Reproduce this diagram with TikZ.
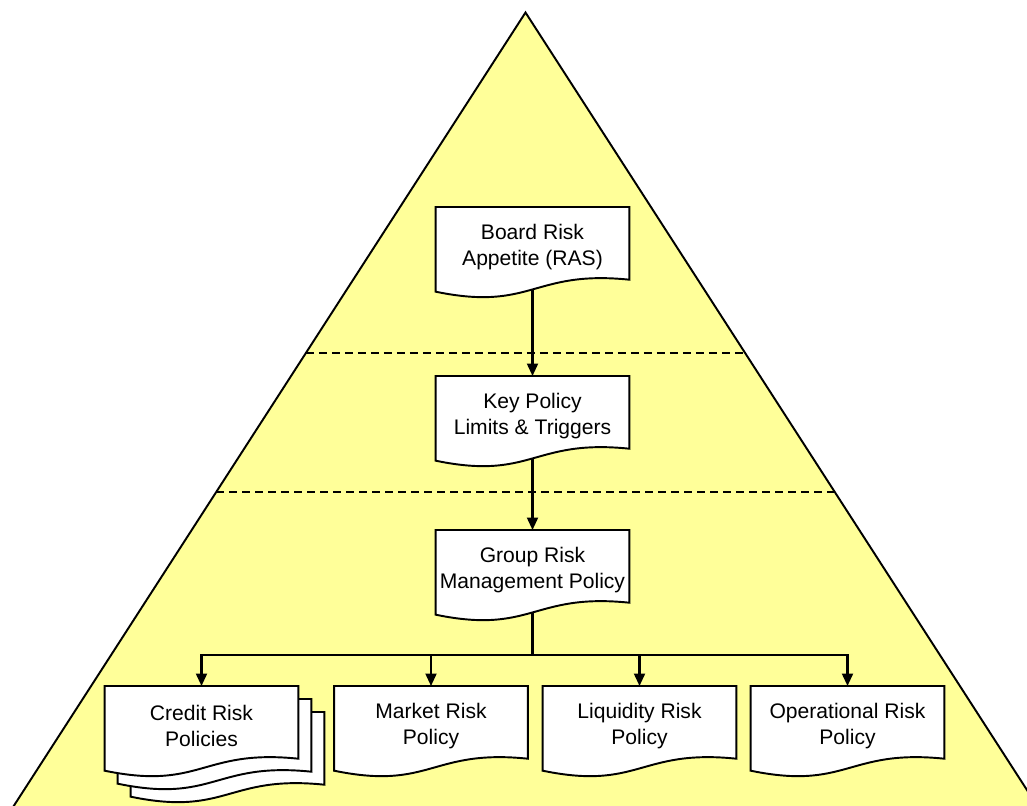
\documentclass[tikz,border=0pt]{standalone}
\usepackage{fontspec}
\setmainfont{Liberation Sans}
\usetikzlibrary{arrows.meta,backgrounds}
\definecolor{pyramidyellow}{RGB}{255,255,153}
\tikzset{
  docbox/.style={rectangle, minimum width=3.86cm, minimum height=1.58cm, inner sep=0pt,
    align=center, font=\fontsize{12}{14.5}\selectfont},
  docline/.style={draw=black, fill=white, line width=1.1pt},
  level/.style={line width=1.1pt, dash pattern=on 0.16cm off 0.1cm},
  flow/.style={line width=1.2pt, -{Triangle[length=0.25cm,width=0.22cm]}}
}
% document outline round a docbox, #2 = shift of the page
\newcommand\docpath[2]{([shift={#2}]#1.north west) -- ([shift={#2}]#1.north east)
  -- ([shift={#2},yshift=0.14cm]#1.south east)
  .. controls ([shift={#2},yshift=0.34cm]#1.south) and ([shift={#2},yshift=-0.5cm]#1.south)
  .. ([shift={#2},yshift=-0.1cm]#1.south west) -- cycle}
\begin{document}
\begin{tikzpicture}[x=0.02cm, y=-0.02cm]
\useasboundingbox (0,0) rectangle (1027,805);
% boxes
\node[docbox, anchor=north] (board) at (532.5,207) {Board Risk\\Appetite (RAS)};
\node[docbox, anchor=north] (key) at (532.5,376) {Key Policy\\Limits \& Triggers};
\node[docbox, anchor=north] (group) at (532.5,530) {Group Risk\\Management Policy};
\node[docbox, anchor=north] (credit) at (201.5,686) {Credit Risk\\Policies};
\node[docbox, anchor=north] (market) at (431,686) {Market Risk\\Policy};
\node[docbox, anchor=north] (liquidity) at (639.5,686) {Liquidity Risk\\Policy};
\node[docbox, anchor=north] (operational) at (847.5,686) {Operational Risk\\Policy};
% pyramid and page outlines
\begin{scope}[on background layer]
  \clip (0,0) rectangle (1027,805);
  \draw[fill=pyramidyellow, line width=1.1pt] (7.9,815) -- (525.5,12.5) -- (1043.1,815) -- cycle;
  \draw[docline] \docpath{credit}{(0.52cm,-0.52cm)};
  \draw[docline] \docpath{credit}{(0.26cm,-0.26cm)};
  \foreach \n in {board,key,group,credit,market,liquidity,operational}
    \draw[docline] \docpath{\n}{(0,0)};
\end{scope}
% levels
\draw[level] (305.9,353) -- (745.1,353);
\draw[level] (216.2,492) -- (834.8,492);
% arrows
\draw[flow] ([yshift=-0.05cm]board.south) -- (key.north);
\draw[flow] ([yshift=-0.05cm]key.south) -- (group.north);
\coordinate (split) at (532.5,655);
\draw[line width=1.2pt] ([yshift=-0.05cm]group.south) -- (split);
\foreach \n in {credit,market,liquidity,operational}
  \draw[flow] (split) -| (\n.north);
\end{tikzpicture}
\end{document}
